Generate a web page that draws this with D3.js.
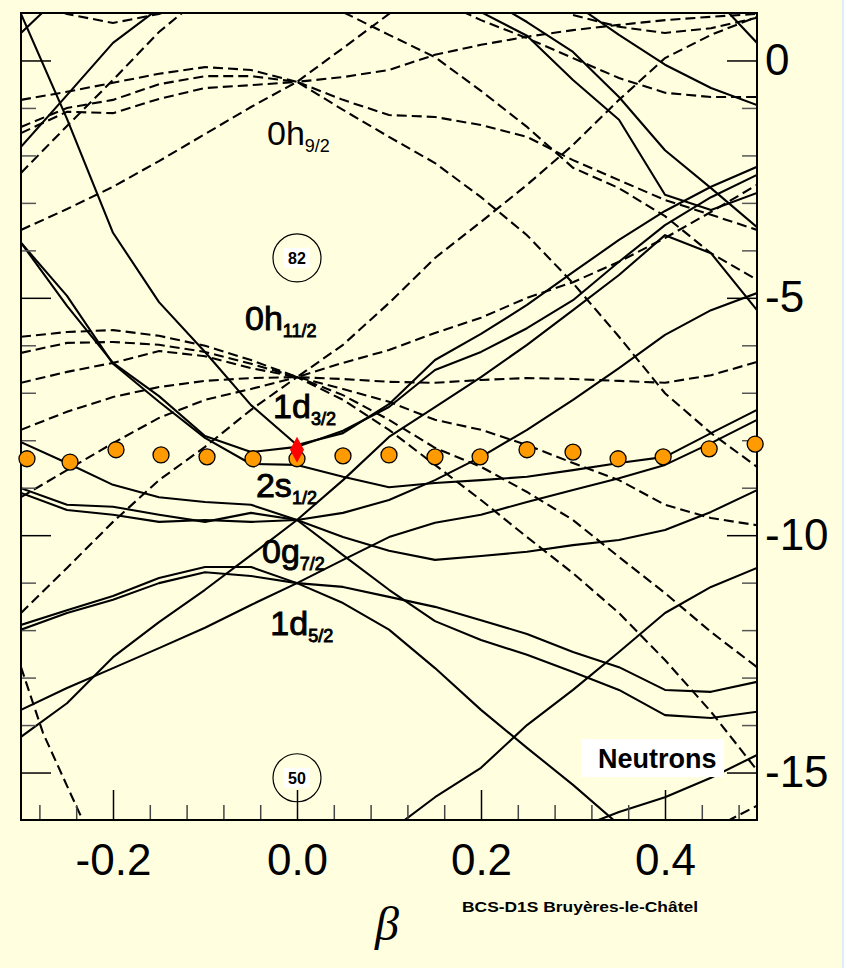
<!DOCTYPE html>
<html>
<head>
<meta charset="utf-8">
<script src="https://cdn.jsdelivr.net/npm/d3@7"></script>
<style>
  body { margin: 0; background: #ffffe0; }
  svg { display: block; font-family: "Liberation Sans", Arial, sans-serif; }
</style>
</head>
<body>
<svg id="chart"></svg>
<script>
const betaGrid = [-0.3, -0.25, -0.2, -0.15, -0.1, -0.05, 0, 0.05, 0.1, 0.15, 0.2, 0.25, 0.3, 0.35, 0.4, 0.45, 0.5];
const onGrid = (vals, start = 0) => vals.map((v, i) => [betaGrid[start + i], v]);

// positive parity orbitals (solid lines)
const solidLevels = [
  onGrid([0.98, -1.23, -3.63, -5.09, -6.14, -7.26, -8.10, -7.85, -7.24, -6.31, -5.76, -5.15, -4.46, -3.78, -3.17, -2.66, -2.24]),
  onGrid([-3.84, -5.17, -6.37, -7.07, -7.91, -8.25, -8.14, -7.80, -7.30, -6.52, -6.14, -5.64, -5.05, -4.24, -3.47, -2.88, -2.41]),
  onGrid([-3.84, -4.96, -6.39, -7.19, -7.95, -8.50, -8.52, -8.77, -8.99, -8.90, -8.84, -8.77, -8.63, -8.48, -8.35, -7.85, -7.36]),
  onGrid([-8.04, -8.48, -8.94, -9.20, -9.30, -9.36, -9.68, -9.53, -9.26, -8.84, -8.35, -7.78, -7.15, -6.48, -5.78, -5.26, -4.90]),
  onGrid([-9.01, -9.36, -9.40, -9.57, -9.72, -9.53, -9.68, -8.84, -7.93, -7.30, -6.67, -5.99, -5.26, -4.52, -3.68, -4.06, -5.26]),
  onGrid([-9.11, -9.47, -9.57, -9.72, -9.68, -9.72, -9.68, -10.04, -10.33, -10.52, -10.44, -10.35, -10.21, -10.10, -9.89, -9.51, -9.05]),
  onGrid([-14.25, -13.54, -12.57, -11.83, -11.15, -10.42, -9.68, -10.42, -11.15, -11.81, -12.21, -12.52, -12.88, -13.26, -13.79, -13.85, -13.72]),
  onGrid([-11.89, -11.58, -11.28, -10.90, -10.67, -10.67, -11.01, -10.52, -10.04, -9.74, -9.57, -9.30, -9.05, -8.80, -8.52, -8.06, -7.57]),
  onGrid([-11.99, -11.64, -11.36, -11.01, -10.78, -10.86, -11.01, -11.09, -11.30, -11.51, -11.79, -12.08, -12.46, -12.78, -13.26, -13.30, -13.09]),
  onGrid([-13.68, -13.22, -12.80, -12.38, -11.95, -11.47, -11.01, -11.43, -11.99, -12.80, -13.68, -14.48, -15.26, -16.10, -17.0]),
  onGrid([-16.25, -15.52, -14.90, -14.00, -13.26, -12.46, -11.64, -11.09, -10.69], 8),
  onGrid([-16.21, -15.83, -15.52, -15.11, -14.63], 12),
  [[-0.3, 0.58], [-0.25, 1.5]],
  [[-0.3, -1.82], [-0.25, -0.73], [-0.2, 0.37], [-0.15, 1.1]],
  onGrid([1.02, 0.52, -0.41, -1.25, -2.83, -3.15, -2.79], 10),
  onGrid([1.38, 0.81, 0.18, -0.77, -1.89, -2.69, -3.51], 10),
  onGrid([1.21, 0.54, -0.09, -0.58, -0.94], 12),
  [[0.45, 1.4], [0.5, 0.37]]
];

// negative parity orbitals (dashed lines)
const dashedLevels = [
  onGrid([-5.82, -5.72, -5.68, -5.80, -6.01, -6.31, -6.67, -5.99, -5.11, -4.16, -3.40, -2.62, -1.78, -0.83, 0.05, 0.54, 0.92]),
  onGrid([-6.16, -5.95, -5.93, -5.99, -6.14, -6.39, -6.67, -6.37, -6.10, -5.74, -5.42, -5.00, -4.67, -4.24, -3.74, -3.19, -2.62]),
  onGrid([-6.79, -6.56, -6.37, -6.12, -6.23, -6.48, -6.67, -6.71, -6.77, -6.79, -6.73, -6.69, -6.71, -6.75, -6.79, -6.63, -6.35]),
  onGrid([-7.78, -7.40, -7.09, -6.88, -6.75, -6.69, -6.67, -6.92, -7.19, -7.57, -7.78, -8.10, -8.48, -8.84, -9.36, -9.64, -9.79]),
  onGrid([-9.20, -8.63, -8.06, -7.53, -7.15, -6.92, -6.67, -7.05, -7.57, -8.16, -8.56, -9.09, -9.68, -10.46, -11.22, -12.04, -12.78]),
  onGrid([-11.64, -10.69, -9.72, -8.84, -8.14, -7.36, -6.67, -7.15, -7.78, -8.52, -9.26, -10.04, -10.80, -11.64, -12.63, -13.72, -14.95]),
  onGrid([-0.83, -0.66, -0.47, -0.28, -0.14, -0.20, -0.45, -0.35, -0.20, 0.12, 0.33, 0.50, 0.64, 0.75, 0.85, 0.92, 0.98]),
  onGrid([-1.40, -1.00, -0.83, -0.50, -0.33, -0.33, -0.45, 0.26, 0.98, 1.70]),
  onGrid([-1.53, -1.08, -1.11, -0.81, -0.58, -0.52, -0.45, -0.83, -1.15, -1.19, -1.36, -1.61, -2.10, -2.52, -2.94, -3.25, -3.57]),
  onGrid([-3.57, -3.13, -2.66, -2.12, -1.55, -0.98, -0.45, -1.04, -1.61, -2.16, -2.88, -3.68, -4.69, -5.82, -7.01, -7.85, -8.56]),
  onGrid([1.8, 1.02, 0.54, 0.07, -0.64, -1.40, -2.26, -2.69, -3.28, -4.06, -4.62], 6),
  [[-0.3, -2.37], [-0.25, -1.38], [-0.2, -0.41], [-0.15, 0.60], [-0.1, 1.4]],
  [[-0.3, 1.3], [-0.25, 0.98], [-0.2, 0.79], [-0.15, 0.98], [-0.1, 1.3]],
  onGrid([1.3, 0.85, 0.47, 0.05, -0.37, -0.68, -0.77, -0.77], 9),
  onGrid([0.96, 0.71, 0.58, 0.68, 0.90], 12),
  [[-0.3, -12.78], [-0.276, -14.17], [-0.25, -15.28], [-0.2, -17.4]],
  [[0.4, -16.9], [0.45, -16.2], [0.5, -15.7]]
];

const fermiBetas = [-0.2935, -0.2467, -0.1967, -0.1478, -0.0978, -0.0478, 0, 0.05, 0.1, 0.15, 0.199, 0.25, 0.3, 0.349, 0.398, 0.448, 0.498];
const fermiEnergies = [-8.39, -8.46, -8.20, -8.31, -8.35, -8.39, -8.39, -8.33, -8.31, -8.35, -8.35, -8.20, -8.25, -8.39, -8.35, -8.18, -8.08];
const groundState = [0, -8.20];

const xMajorTicks = [-0.2, 0, 0.2, 0.4];
const xMinorTicks = [-0.28, -0.24, -0.16, -0.12, -0.08, -0.04, 0.04, 0.08, 0.12, 0.16, 0.24, 0.28, 0.32, 0.36, 0.44, 0.48];
const yMajorTicks = [0, -5, -10, -15];
const yMinorTicks = [-1, -2, -3, -4, -6, -7, -8, -9, -11, -12, -13, -14];

const orbitalNames = ["0h", "0h", "1d", "2s", "0g", "1d"];
const orbitalSpins = ["9/2", "11/2", "3/2", "1/2", "7/2", "5/2"];
const magicNumbers = ["82", "50"];

// annotation anchors, in (beta, energy)
const orbitalLabelAt = [[-0.0326, -1.78], [-0.0565, -5.68], [-0.026, -7.53], [-0.0446, -9.19], [-0.038, -10.59], [-0.029, -12.10]];
const magicAt = [[0, -4.16], [0, -15.11]];

const W = 844, H = 968;
const frame = { left: 21, right: 757, top: 13, bottom: 820 };

const svg = d3.select("#chart").attr("width", W).attr("height", H);

svg.append("rect").attr("width", W).attr("height", H).attr("fill", "#ffffe0");
svg.append("rect").attr("x", W - 2).attr("width", 2).attr("height", H).attr("fill", "#dceef8");

const x = d3.scaleLinear().domain([-0.3, 0.5]).range([frame.left, frame.right]);
const y = d3.scaleLinear().domain([-16, 1]).range([frame.bottom, frame.top]);

svg.append("clipPath").attr("id", "plot-clip")
  .append("rect")
  .attr("x", frame.left).attr("y", frame.top)
  .attr("width", frame.right - frame.left).attr("height", frame.bottom - frame.top);

const plot = svg.append("g").attr("clip-path", "url(#plot-clip)");

const levelLine = d3.line().x(d => x(d[0])).y(d => y(d[1]));

plot.selectAll(".solid")
  .data(solidLevels)
  .enter()
  .append("path")
    .attr("class", "solid")
    .attr("fill", "none")
    .attr("stroke", "#000")
    .attr("stroke-width", 2.1)
    .attr("stroke-linejoin", "round")
    .attr("d", levelLine);

plot.selectAll(".dashed")
  .data(dashedLevels)
  .enter()
  .append("path")
    .attr("class", "dashed")
    .attr("fill", "none")
    .attr("stroke", "#000")
    .attr("stroke-width", 2.1)
    .attr("stroke-dasharray", "10,5")
    .attr("d", levelLine);

// axes: ticks point inward, labels only on right and bottom
const styleAxis = g => {
  g.select(".domain").remove();
  g.selectAll("line").attr("stroke", "#000").attr("stroke-width", 1.5);
  g.selectAll("text").attr("fill", "#000").style("font-size", "44px")
    .style("font-family", '"Liberation Sans", Arial, sans-serif');
};

svg.append("g")
  .attr("transform", `translate(0,${frame.bottom})`)
  .call(d3.axisBottom(x).tickValues(xMajorTicks).tickSize(-30).tickPadding(24).tickFormat(d => d.toFixed(1)))
  .call(styleAxis);
svg.append("g")
  .attr("transform", `translate(0,${frame.bottom})`)
  .call(d3.axisBottom(x).tickValues(xMinorTicks).tickSize(-15).tickFormat(""))
  .call(styleAxis)
  .selectAll("line").attr("stroke", "#444");

svg.append("g")
  .attr("transform", `translate(${frame.right},0)`)
  .call(d3.axisRight(y).tickValues(yMajorTicks).tickSize(-30).tickPadding(8).tickFormat(d => String(d)))
  .call(styleAxis);
svg.append("g")
  .attr("transform", `translate(${frame.right},0)`)
  .call(d3.axisRight(y).tickValues(yMinorTicks).tickSize(-15).tickFormat(""))
  .call(styleAxis)
  .selectAll("line").attr("stroke", "#555");

svg.append("g")
  .attr("transform", `translate(${frame.left},0)`)
  .call(d3.axisLeft(y).tickValues(yMajorTicks).tickSize(-30).tickFormat(""))
  .call(styleAxis);
svg.append("g")
  .attr("transform", `translate(${frame.left},0)`)
  .call(d3.axisLeft(y).tickValues(yMinorTicks).tickSize(-15).tickFormat(""))
  .call(styleAxis)
  .selectAll("line").attr("stroke", "#555");

svg.append("rect")
  .attr("x", frame.left).attr("y", frame.top)
  .attr("width", frame.right - frame.left).attr("height", frame.bottom - frame.top)
  .attr("fill", "none").attr("stroke", "#000").attr("stroke-width", 2);

// spherical orbital labels (first one is drawn lighter in the original)
const labels = svg.selectAll(".orbital")
  .data(orbitalNames)
  .enter()
  .append("text")
    .attr("class", "orbital")
    .attr("x", (d, i) => x(orbitalLabelAt[i][0]))
    .attr("y", (d, i) => y(orbitalLabelAt[i][1]))
    .attr("fill", "#000")
    .attr("stroke", "#000")
    .attr("stroke-width", (d, i) => i === 0 ? 0 : 0.9)
    .style("font-size", "34px");
labels.append("tspan").text(d => d);
labels.append("tspan")
  .attr("dy", 7)
  .style("font-size", "18px")
  .text((d, i) => orbitalSpins[i]);

// magic number circles
const magic = svg.selectAll(".magic")
  .data(magicNumbers)
  .enter()
  .append("g")
    .attr("class", "magic")
    .attr("transform", (d, i) => `translate(${x(magicAt[i][0])},${y(magicAt[i][1])})`);
magic.append("circle").attr("r", 24).attr("fill", "none").attr("stroke", "#000").attr("stroke-width", 1.2);
magic.append("rect").attr("x", -13).attr("y", -10).attr("width", 26).attr("height", 20).attr("fill", "#fff");
magic.append("text")
  .attr("text-anchor", "middle")
  .attr("y", 6)
  .style("font-size", "16px")
  .style("font-weight", "bold")
  .text(d => d);

// fermi level dots and ground state
svg.selectAll(".fermi")
  .data(fermiBetas)
  .enter()
  .append("circle")
    .attr("class", "fermi")
    .attr("cx", d => x(d))
    .attr("cy", (d, i) => y(fermiEnergies[i]))
    .attr("r", 8)
    .attr("fill", "#ff9a00")
    .attr("stroke", "#000")
    .attr("stroke-width", 1.3);

const gx = x(groundState[0]), gy = y(groundState[1]);
svg.append("path")
  .attr("d", `M${gx},${gy - 13}L${gx + 7},${gy}L${gx},${gy + 13}L${gx - 7},${gy}Z`)
  .attr("fill", "#ff0000");

// legend box
svg.append("rect")
  .attr("x", 581).attr("y", 739).attr("width", 143).attr("height", 38)
  .attr("fill", "#fff");
svg.append("text")
  .attr("x", 598).attr("y", 768)
  .style("font-size", "27px")
  .style("font-weight", "bold")
  .attr("fill", "#000")
  .text("Neutrons");

svg.append("text")
  .attr("x", 387).attr("y", 940)
  .attr("text-anchor", "middle")
  .style("font-family", '"Liberation Serif", "DejaVu Serif", serif')
  .style("font-style", "italic")
  .style("font-size", "48px")
  .text("β");

svg.append("text")
  .attr("x", 462).attr("y", 912)
  .attr("textLength", 236)
  .attr("lengthAdjust", "spacingAndGlyphs")
  .style("font-size", "15px")
  .style("font-weight", "bold")
  .text("BCS-D1S Bruyères-le-Châtel");
</script>
</body>
</html>
